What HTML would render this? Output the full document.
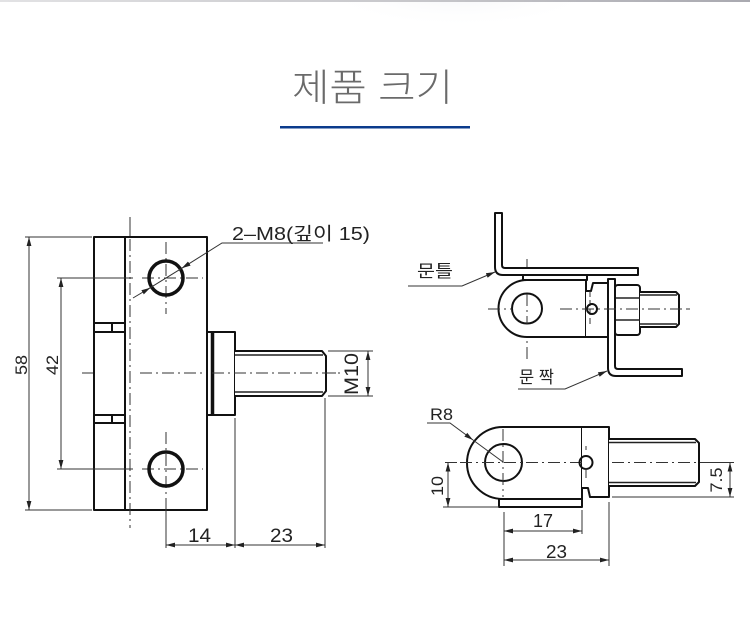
<!DOCTYPE html>
<html><head><meta charset="utf-8">
<style>
html,body{margin:0;padding:0;background:#fff;}
svg{display:block;}
text{font-family:"Liberation Sans","Noto Sans CJK KR",sans-serif;fill:#222;}
.o{fill:none;stroke:#111;stroke-width:2;stroke-linejoin:round;}
.ow{fill:#fff;stroke:#111;stroke-width:2;stroke-linejoin:round;}
.t{fill:none;stroke:#222;stroke-width:1.4;}
.d{fill:none;stroke:#333;stroke-width:1;}
.c{fill:none;stroke:#333;stroke-width:1;stroke-dasharray:12 4 2 4;}
.k{font-family:"Liberation Sans","Noto Sans CJK KR",sans-serif;}
</style></head><body>
<svg width="750" height="631" viewBox="0 0 750 631" xmlns="http://www.w3.org/2000/svg">
<defs>
<marker id="ar" markerUnits="userSpaceOnUse" markerWidth="9" markerHeight="6" refX="9" refY="3" orient="auto-start-reverse"><path d="M0,0.6 L9,3 L0,5.4 Z" fill="#222"/></marker>
<linearGradient id="tg" x1="0" x2="1" y1="0" y2="0"><stop offset="0" stop-color="#e2e2e4"/><stop offset="0.6" stop-color="#c4c4c8"/><stop offset="1" stop-color="#a9a9b0"/></linearGradient>
<radialGradient id="sh" cx="0.5" cy="0.2" r="0.5"><stop offset="0" stop-color="#f1f2f5"/><stop offset="1" stop-color="#ffffff" stop-opacity="0"/></radialGradient>
</defs>
<rect width="750" height="631" fill="#fff"/>
<ellipse cx="460" cy="12" rx="150" ry="42" fill="url(#sh)"/>
<rect x="0" y="0" width="750" height="2" fill="url(#tg)"/>

<!-- Title -->
<text x="292" y="101" font-size="38" textLength="161" lengthAdjust="spacingAndGlyphs" style="fill:#6a6a6a;font-weight:300;" class="k">제품 크기</text>
<rect x="280" y="126" width="190" height="2.5" fill="#0b3b8c"/>

<!-- ================= LEFT DRAWING ================= -->
<!-- center lines -->
<line class="d" x1="130" y1="217" x2="130" y2="237"/>
<line class="c" x1="130" y1="239" x2="130" y2="528"/>
<line class="c" x1="82" y1="373" x2="340" y2="373"/>
<line class="c" x1="166" y1="242" x2="166" y2="314"/>
<line class="c" x1="142" y1="278" x2="203" y2="278"/>
<line class="c" x1="166" y1="432" x2="166" y2="505"/>
<line class="c" x1="142" y1="469" x2="203" y2="469"/>

<!-- body -->
<rect class="ow" x="94" y="237" width="31" height="273"/>
<rect class="ow" x="125" y="237" width="82" height="273"/>
<line class="o" x1="94" y1="323" x2="125" y2="323"/>
<line class="o" x1="94" y1="332" x2="125" y2="332"/>
<line class="o" x1="112" y1="323" x2="112" y2="332"/>
<line class="o" x1="94" y1="415" x2="125" y2="415"/>
<line class="o" x1="94" y1="423" x2="125" y2="423"/>
<line class="o" x1="112" y1="415" x2="112" y2="423"/>
<!-- re-draw center lines over body -->
<line class="c" x1="130" y1="239" x2="130" y2="528"/>
<line class="c" x1="140" y1="373" x2="207" y2="373"/>
<line class="c" x1="166" y1="242" x2="166" y2="314"/>
<line class="c" x1="142" y1="278" x2="203" y2="278"/>
<line class="c" x1="166" y1="432" x2="166" y2="505"/>
<line class="c" x1="142" y1="469" x2="203" y2="469"/>
<!-- holes -->
<circle cx="166" cy="278" r="17" fill="none" stroke="#111" stroke-width="3.5"/>
<circle cx="166" cy="469" r="17" fill="none" stroke="#111" stroke-width="3.5"/>
<!-- flange -->
<rect class="ow" x="207" y="332" width="28" height="83"/>
<line x1="212.5" y1="332" x2="212.5" y2="415" stroke="#111" stroke-width="3.5"/>
<!-- shaft -->
<path class="ow" d="M235,351 L322,351 L326,356 L326,391 L322,396 L235,396"/>
<line class="t" x1="235" y1="355" x2="323" y2="355"/>
<line class="t" x1="235" y1="392" x2="323" y2="392"/>
<line class="c" x1="212" y1="373" x2="340" y2="373"/>

<!-- dimensions left -->
<line class="d" x1="25" y1="237" x2="92" y2="237"/>
<line class="d" x1="25" y1="510" x2="92" y2="510"/>
<line class="d" x1="29" y1="237" x2="29" y2="510" marker-start="url(#ar)" marker-end="url(#ar)"/>
<line class="d" x1="57" y1="278" x2="133" y2="278"/>
<line class="d" x1="57" y1="469" x2="133" y2="469"/>
<line class="d" x1="61" y1="278" x2="61" y2="469" marker-start="url(#ar)" marker-end="url(#ar)"/>
<text transform="translate(27,365) rotate(-90)" font-size="17" text-anchor="middle" textLength="20" lengthAdjust="spacingAndGlyphs">58</text>
<text transform="translate(58,365) rotate(-90)" font-size="17" text-anchor="middle" textLength="20" lengthAdjust="spacingAndGlyphs">42</text>

<line class="d" x1="166" y1="505" x2="166" y2="548"/>
<line class="d" x1="235" y1="418" x2="235" y2="548"/>
<line class="d" x1="325" y1="398" x2="325" y2="548"/>
<line class="d" x1="166" y1="545" x2="235" y2="545" marker-start="url(#ar)" marker-end="url(#ar)"/>
<line class="d" x1="235" y1="545" x2="325" y2="545" marker-start="url(#ar)" marker-end="url(#ar)"/>
<text x="188" y="542" font-size="19" textLength="23" lengthAdjust="spacingAndGlyphs">14</text>
<text x="270" y="542" font-size="19" textLength="23" lengthAdjust="spacingAndGlyphs">23</text>

<line class="d" x1="328" y1="351" x2="373" y2="351"/>
<line class="d" x1="328" y1="396" x2="373" y2="396"/>
<line class="d" x1="368" y1="351" x2="368" y2="396" marker-start="url(#ar)" marker-end="url(#ar)"/>
<text transform="translate(358,374) rotate(-90)" font-size="19" text-anchor="middle" textLength="42" lengthAdjust="spacingAndGlyphs">M10</text>

<!-- 2-M8 leader -->
<line class="d" x1="133" y1="298" x2="150.3" y2="287.7" marker-end="url(#ar)"/>
<line class="d" x1="150.3" y1="287.7" x2="181.7" y2="268.3"/>
<polyline class="d" points="323,243 222,243 181.7,268.3" marker-end="url(#ar)"/>
<text x="232" y="240" font-size="18" textLength="138" lengthAdjust="spacingAndGlyphs">2–M8(깊이 15)</text>

<!-- ================= RIGHT TOP ================= -->
<line class="c" x1="488" y1="309" x2="690" y2="309"/>
<line class="c" x1="527" y1="259" x2="527" y2="360"/>
<!-- door frame -->
<path class="ow" d="M495,213 L502,213 L502,265 Q502,268 505,268 L638,268 L638,275 L503,275 Q495,275 495,267 Z"/>
<!-- small plate -->
<rect class="ow" x="523" y="275" width="64" height="5"/>
<!-- body -->
<path class="ow" d="M527,280 L586,280 L586,337 L527,337 A28.5,28.5 0 0 1 527,280 Z"/>
<circle class="o" cx="527" cy="308.5" r="15"/>
<!-- second part -->
<path class="ow" d="M586,337 L608,337 L608,283 L593,283 L591,291 L586,291"/>
<line class="d" x1="590" y1="291" x2="590" y2="326" stroke-dasharray="6 3"/>
<circle class="o" cx="592" cy="309" r="5" stroke-width="1.5"/>
<!-- nut -->
<rect class="ow" x="615" y="285" width="25" height="50" rx="3"/>
<line class="t" x1="615" y1="298" x2="640" y2="298"/>
<line class="t" x1="615" y1="320" x2="640" y2="320"/>
<!-- shaft -->
<path class="ow" d="M640,292 L676,292 L679,295 L679,324 L676,327 L640,327"/>
<line class="t" x1="640" y1="295" x2="677" y2="295"/>
<line class="t" x1="640" y1="324" x2="677" y2="324"/>
<!-- door leaf -->
<path class="ow" d="M608,279 L615,279 L615,366 Q615,369 618,369 L682,369 L682,376 L616,376 Q608,376 608,368 Z"/>
<line class="c" x1="488" y1="309" x2="512" y2="309"/>
<line class="c" x1="527" y1="294" x2="527" y2="324"/>
<line class="c" x1="560" y1="309" x2="690" y2="309"/>
<!-- leaders -->
<polyline class="d" points="408,286 462,286 495,272" marker-end="url(#ar)"/>
<text x="417" y="277" font-size="17" textLength="36" lengthAdjust="spacingAndGlyphs" class="k">문틀</text>
<polyline class="d" points="518,389 565,389 607,371" marker-end="url(#ar)"/>
<text x="519" y="383" font-size="17" textLength="35" lengthAdjust="spacingAndGlyphs" class="k">문 짝</text>

<!-- ================= RIGHT BOTTOM ================= -->
<line class="c" x1="445" y1="462.5" x2="712" y2="462.5"/>
<path class="ow" d="M503,427 L582,427 L582,499 L503,499 A36,36 0 0 1 503,427 Z"/>
<rect class="ow" x="499" y="499" width="83" height="8"/>
<circle class="o" cx="503.5" cy="462.5" r="18.5"/>
<line class="c" x1="503" y1="429" x2="503" y2="497"/>
<line class="c" x1="460" y1="462.5" x2="600" y2="462.5"/>
<!-- block -->
<path class="ow" d="M582,427 L609,427 L609,497 L590,497 L588,488 L582,488"/>
<circle class="o" cx="586" cy="462.5" r="6.5" stroke-width="1.5"/>
<line class="d" x1="586" y1="446" x2="586" y2="450" stroke-width="2"/>
<line class="d" x1="586" y1="468" x2="586" y2="478"/>
<!-- shaft -->
<path class="ow" d="M609,439 L695,439 L699,443 L699,482 L695,486 L609,486"/>
<line class="t" x1="609" y1="442.5" x2="696" y2="442.5"/>
<line class="t" x1="609" y1="482.5" x2="696" y2="482.5"/>
<line class="c" x1="612" y1="462.5" x2="712" y2="462.5"/>
<line class="d" x1="700" y1="462.5" x2="734" y2="462.5"/>

<!-- R8 -->
<polyline class="d" points="427,423 450,423 473,440" marker-end="url(#ar)"/>
<line class="d" x1="473" y1="440" x2="503" y2="462"/>
<text x="430" y="420" font-size="17" textLength="23" lengthAdjust="spacingAndGlyphs">R8</text>

<!-- 10 -->
<line class="d" x1="443" y1="507" x2="499" y2="507"/>
<line class="d" x1="448" y1="462.5" x2="448" y2="507" marker-start="url(#ar)" marker-end="url(#ar)"/>
<text transform="translate(443,486) rotate(-90)" font-size="17" text-anchor="middle" textLength="20" lengthAdjust="spacingAndGlyphs">10</text>

<!-- 7.5 -->
<line class="d" x1="612" y1="497" x2="734" y2="497"/>
<line class="d" x1="730" y1="462.5" x2="730" y2="497" marker-start="url(#ar)" marker-end="url(#ar)"/>
<text transform="translate(722,480) rotate(-90)" font-size="17" text-anchor="middle" textLength="25" lengthAdjust="spacingAndGlyphs">7.5</text>

<!-- 17 / 23 -->
<line class="d" x1="504" y1="512" x2="504" y2="566"/>
<line class="d" x1="582" y1="510" x2="582" y2="534"/>
<line class="d" x1="609" y1="502" x2="609" y2="566"/>
<line class="d" x1="504" y1="531" x2="582" y2="531" marker-start="url(#ar)" marker-end="url(#ar)"/>
<line class="d" x1="504" y1="560" x2="609" y2="560" marker-start="url(#ar)" marker-end="url(#ar)"/>
<text x="533" y="527" font-size="18" textLength="20" lengthAdjust="spacingAndGlyphs">17</text>
<text x="546" y="558" font-size="18" textLength="21" lengthAdjust="spacingAndGlyphs">23</text>
</svg>
</body></html>
